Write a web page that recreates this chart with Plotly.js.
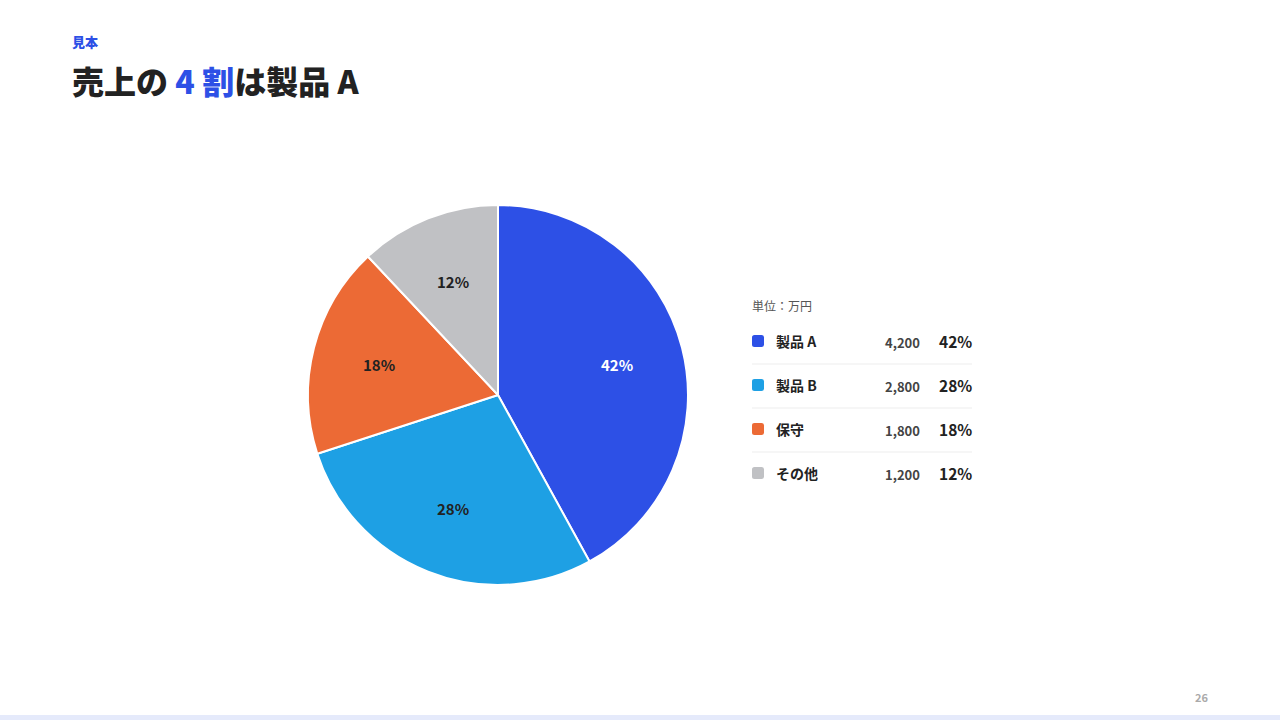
<!DOCTYPE html>
<html>
<head>
<meta charset="utf-8">
<script src="https://cdn.plot.ly/plotly-3.0.1.min.js"></script>
<style>
html,body{margin:0;padding:0;background:#fff;}
#chart{width:1280px;height:720px;}
</style>
</head>
<body>
<div id="chart"></div>
<script>
const categories = ['製品 A', '製品 B', '保守', 'その他'];
const values = [4200, 2800, 1800, 1200];
const valueLabels = ['4,200', '2,800', '1,800', '1,200'];
const percentLabels = ['42%', '28%', '18%', '12%'];
const colors = ['#2D50E6', '#1EA0E4', '#EC6A35', '#C0C1C4'];
const textColors = ['#FFFFFF', '#222222', '#222222', '#222222'];
const unitLabel = '単位：万円';
const kicker = '見本';
const pageNumber = '26';

const W = 1280, H = 720;
const px = x => x / W;
const py = y => 1 - y / H;
const FONT = '"Noto Sans CJK JP", "Noto Sans", sans-serif';

// pie placement (pixels)
const PIE_L = 308, PIE_R = 688, PIE_T = 205, PIE_B = 585;
const CX = (PIE_L + PIE_R) / 2, CY = (PIE_T + PIE_B) / 2, RAD = (PIE_R - PIE_L) / 2;
const LABEL_FRAC = 0.645;

function roundRect(x0, y0, x1, y1, r) {
  const X = v => px(v).toFixed(5), Y = v => py(v).toFixed(5);
  return `M ${X(x0 + r)} ${Y(y0)} L ${X(x1 - r)} ${Y(y0)} Q ${X(x1)} ${Y(y0)} ${X(x1)} ${Y(y0 + r)} ` +
    `L ${X(x1)} ${Y(y1 - r)} Q ${X(x1)} ${Y(y1)} ${X(x1 - r)} ${Y(y1)} L ${X(x0 + r)} ${Y(y1)} ` +
    `Q ${X(x0)} ${Y(y1)} ${X(x0)} ${Y(y1 - r)} L ${X(x0)} ${Y(y0 + r)} Q ${X(x0)} ${Y(y0)} ${X(x0 + r)} ${Y(y0)} Z`;
}

const trace = {
  type: 'pie',
  labels: categories,
  values: values,
  textinfo: 'none',
  sort: false,
  direction: 'clockwise',
  rotation: 0,
  marker: { colors: colors, line: { color: '#FFFFFF', width: 2 } },
  hoverinfo: 'none',
  showlegend: false,
  domain: { x: [px(PIE_L), px(PIE_R)], y: [py(PIE_B), py(PIE_T)] }
};

const annotations = [];
const shapes = [];
const base = { xref: 'paper', yref: 'paper', showarrow: false, borderpad: 0, borderwidth: 0 };

// slice labels, placed at mid-angle of each slice
const total = values.reduce((a, b) => a + b, 0);
let cum = 0;
values.forEach((v, i) => {
  const mid = (cum + v / 2) / total;
  cum += v;
  const th = mid * 2 * Math.PI;
  const lx = CX + Math.sin(th) * RAD * LABEL_FRAC;
  const ly = CY - Math.cos(th) * RAD * LABEL_FRAC;
  annotations.push(Object.assign({}, base, {
    x: px(lx), y: py(ly), xanchor: 'center', yanchor: 'middle',
    text: '<b>' + percentLabels[i] + '</b>',
    font: { family: FONT, size: 15, color: textColors[i] }
  }));
});

annotations.push(Object.assign({}, base, {
  x: px(72), y: py(41), xanchor: 'left', yanchor: 'middle',
  text: kicker,
  font: { family: FONT, size: 13, color: '#2D50E6', weight: 900 }
}));
annotations.push(Object.assign({}, base, {
  x: px(72), y: py(80), xanchor: 'left', yanchor: 'middle',
  text: '売上の <span style="color:#2D50E6">4 割</span>は製品 A',
  font: { family: FONT, size: 32, color: '#222222', weight: 900 }
}));
annotations.push(Object.assign({}, base, {
  x: px(752), y: py(305), xanchor: 'left', yanchor: 'middle',
  text: unitLabel,
  font: { family: FONT, size: 12, color: '#555555' }
}));

const rowY0 = 341, rowStep = 44;
categories.forEach((c, i) => {
  const y = rowY0 + i * rowStep;
  shapes.push({
    type: 'path', xref: 'paper', yref: 'paper', path: roundRect(752, y - 6, 764, y + 6, 2.5),
    fillcolor: colors[i], line: { width: 0 }
  });
  annotations.push(Object.assign({}, base, {
    x: px(776), y: py(y), xanchor: 'left', yanchor: 'middle',
    text: '<b>' + c + '</b>',
    font: { family: FONT, size: 14, color: '#222222' }
  }));
  annotations.push(Object.assign({}, base, {
    x: px(920), y: py(y + 1), xanchor: 'right', yanchor: 'middle',
    text: valueLabels[i],
    font: { family: FONT, size: 13, color: '#444444', weight: 600 }
  }));
  annotations.push(Object.assign({}, base, {
    x: px(972), y: py(y), xanchor: 'right', yanchor: 'middle',
    text: '<b>' + percentLabels[i] + '</b>',
    font: { family: FONT, size: 15.5, color: '#222222' }
  }));
  if (i < categories.length - 1) {
    shapes.push({
      type: 'line', xref: 'paper', yref: 'paper',
      x0: px(752), x1: px(972), y0: py(y + 23), y1: py(y + 23),
      line: { color: '#EDEDED', width: 1 }
    });
  }
});

annotations.push(Object.assign({}, base, {
  x: px(1208), y: py(697), xanchor: 'right', yanchor: 'middle',
  text: '<b>' + pageNumber + '</b>',
  font: { family: FONT, size: 11, color: '#AAAAAA' }
}));

shapes.push({
  type: 'rect', xref: 'paper', yref: 'paper', x0: 0, x1: 1, y0: 0, y1: py(715),
  fillcolor: '#E5EAFB', line: { width: 0 }
});

const layout = {
  width: W, height: H,
  margin: { l: 0, r: 0, t: 0, b: 0 },
  paper_bgcolor: '#FFFFFF',
  plot_bgcolor: '#FFFFFF',
  font: { family: FONT },
  showlegend: false,
  annotations: annotations,
  shapes: shapes
};

Plotly.newPlot('chart', [trace], layout, { staticPlot: true, displayModeBar: false });
</script>
</body>
</html>
